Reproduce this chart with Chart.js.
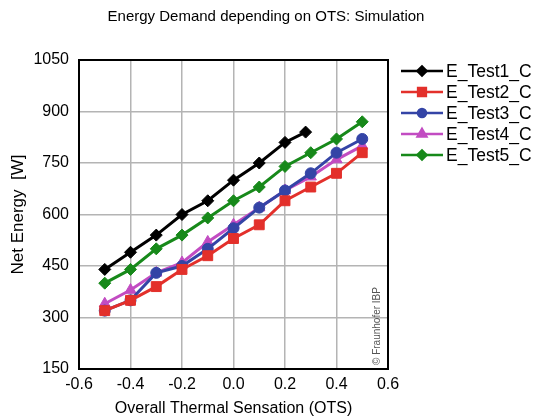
<!DOCTYPE html>
<html lang="en">
<head>
    <meta charset="UTF-8">
    <title>Energy Demand depending on OTS: Simulation</title>
    <script src="https://cdn.jsdelivr.net/npm/chart.js"></script>
    <style>
        body {
            margin: 0;
            background: #fff;
        }
        canvas {
            display: block;
        }
    </style>
</head>
<body>
    <canvas id="otsChart" width="535" height="420"></canvas>

    <script>
        // values
        const ots = [-0.5, -0.4, -0.3, -0.2, -0.1, 0.0, 0.1, 0.2, 0.3, 0.4, 0.5];
        const otsTest1 = [-0.5, -0.4, -0.3, -0.2, -0.1, 0.0, 0.1, 0.2, 0.28];

        const eTest1 = [440, 490, 540, 600, 640, 700, 750, 810, 840];
        const eTest2 = [320, 350, 390, 440, 480, 530, 570, 640, 680, 720, 780];
        const eTest3 = [320, 350, 430, 450, 500, 560, 620, 670, 720, 780, 820];
        const eTest4 = [340, 380, 430, 460, 520, 570, 620, 670, 710, 760, 800];
        const eTest5 = [400, 440, 500, 540, 590, 640, 680, 740, 780, 820, 870];

        const xTicks = [-0.6, -0.4, -0.2, 0.0, 0.2, 0.4, 0.6];
        const xTickLabels = ["-0.6", "-0.4", "-0.2", "0.0", "0.2", "0.4", "0.6"];
        const yTicks = [150, 300, 450, 600, 750, 900, 1050];

        const FONT = "'Liberation Sans', Arial, sans-serif";

        function pts(xs, ys) {
            return xs.map((x, i) => ({ x: x, y: ys[i] }));
        }

        function series(label, xs, ys, color, style, radius) {
            return {
                label: label,
                data: pts(xs, ys),
                showLine: true,
                borderColor: color,
                backgroundColor: color,
                borderWidth: 3,
                pointStyle: style,
                pointRadius: radius,
                pointBorderWidth: 1,
                pointHoverRadius: radius
            };
        }

        // title, legend and the copyright note are drawn by hand
        const extras = {
            id: "extras",
            beforeDatasetsDraw(chart) {
                const { ctx, chartArea: a } = chart;
                ctx.save();
                ctx.strokeStyle = "#000";
                ctx.lineWidth = 2;
                ctx.strokeRect(a.left, a.top, a.right - a.left, a.bottom - a.top);
                ctx.restore();
            },
            afterDraw(chart) {
                const { ctx, chartArea: a } = chart;
                ctx.save();
                ctx.fillStyle = "#000";
                ctx.font = "15px " + FONT;
                ctx.textAlign = "center";
                ctx.textBaseline = "middle";
                ctx.fillText("Energy Demand depending on OTS: Simulation", 266, 17);

                // legend
                ctx.font = "17.5px " + FONT;
                ctx.textAlign = "left";
                chart.data.datasets.forEach((ds, i) => {
                    const y = 71 + i * 21;
                    ctx.strokeStyle = ds.borderColor;
                    ctx.lineWidth = 2.5;
                    ctx.beginPath();
                    ctx.moveTo(401, y);
                    ctx.lineTo(443, y);
                    ctx.stroke();
                    ctx.fillStyle = ds.backgroundColor;
                    Chart.helpers.drawPoint(ctx, {
                        pointStyle: ds.pointStyle,
                        radius: ds.pointRadius - 1.5,
                        borderWidth: 1
                    }, 422, y);
                    ctx.fillStyle = "#000";
                    ctx.fillText(ds.label, 446, y + 1);
                });

                // copyright
                ctx.translate(a.right - 11, a.bottom - 4);
                ctx.rotate(-Math.PI / 2);
                ctx.font = "10px " + FONT;
                ctx.fillStyle = "#555";
                ctx.textAlign = "left";
                ctx.fillText("\u00a9 Fraunhofer IBP", 0, 0);
                ctx.restore();
            }
        };

        const ctx = document.getElementById("otsChart").getContext("2d");
        new Chart(ctx, {
            type: "scatter",
            data: {
                datasets: [
                    series("E_Test1_C", otsTest1, eTest1, "#000000", "rectRot", 6),
                    series("E_Test2_C", ots, eTest2, "#e3302b", "rect", 7),
                    series("E_Test3_C", ots, eTest3, "#3444a6", "circle", 5.5),
                    series("E_Test4_C", ots, eTest4, "#c24cc2", "triangle", 6.5),
                    series("E_Test5_C", ots, eTest5, "#17891a", "rectRot", 6)
                ]
            },
            options: {
                responsive: false,
                animation: false,
                layout: {
                    padding: { left: 0, right: 147, top: 60, bottom: 0 }
                },
                plugins: {
                    legend: { display: false },
                    title: { display: false },
                    tooltip: { enabled: false }
                },
                scales: {
                    x: {
                        type: "linear",
                        min: -0.6,
                        max: 0.6,
                        afterBuildTicks(scale) {
                            scale.ticks = xTicks.map(v => ({ value: v }));
                        },
                        afterFit(scale) {
                            scale.height = 51;
                        },
                        ticks: {
                            color: "#000",
                            padding: 6,
                            font: { family: FONT, size: 16 },
                            callback: (v, i) => xTickLabels[i]
                        },
                        grid: {
                            color: "#b4b4b4",
                            lineWidth: 1.5,
                            drawTicks: false
                        },
                        border: { display: false },
                        title: {
                            display: true,
                            text: "Overall Thermal Sensation (OTS)",
                            color: "#000",
                            font: { family: FONT, size: 16 },
                            padding: { top: 0, bottom: 2 }
                        }
                    },
                    y: {
                        type: "linear",
                        min: 150,
                        max: 1050,
                        afterBuildTicks(scale) {
                            scale.ticks = yTicks.map(v => ({ value: v }));
                        },
                        afterFit(scale) {
                            scale.width = 79;
                        },
                        ticks: {
                            color: "#000",
                            padding: 10,
                            font: { family: FONT, size: 16 },
                            callback: v => String(v)
                        },
                        grid: {
                            color: "#b4b4b4",
                            lineWidth: 1.5,
                            drawTicks: false
                        },
                        border: { display: false },
                        title: {
                            display: true,
                            text: "Net Energy  [W]",
                            color: "#000",
                            font: { family: FONT, size: 17 },
                            padding: { top: 8, bottom: 0 }
                        }
                    }
                }
            },
            plugins: [extras]
        });
    </script>
</body>
</html>
